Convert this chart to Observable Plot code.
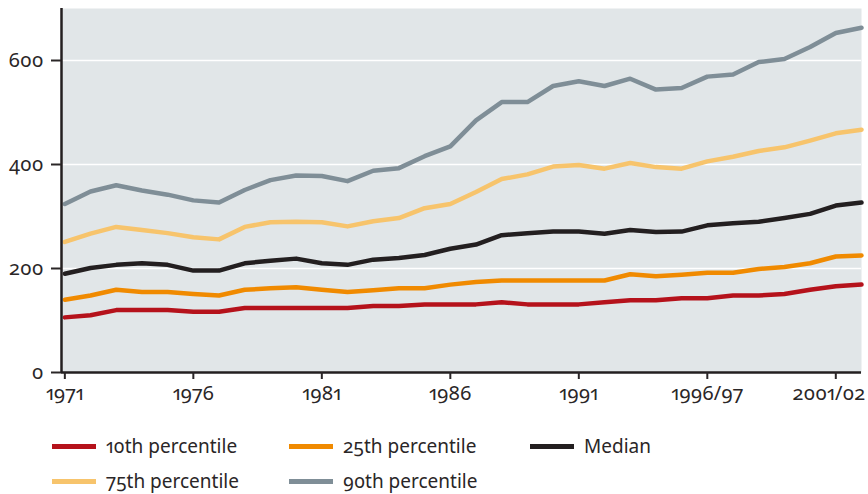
<!DOCTYPE html>
<html>
<head>
<meta charset="utf-8">
<script src="https://cdn.jsdelivr.net/npm/d3@7"></script>
<script src="https://cdn.jsdelivr.net/npm/@observablehq/plot@0.6"></script>
<style>
  html, body { margin: 0; padding: 0; background: #fff; }
  body { width: 868px; height: 494px; overflow: hidden; font-family: "Noto Sans", sans-serif; color: #231f20; font-variant-numeric: oldstyle-nums proportional-nums; }
  #chart { position: relative; width: 868px; }
  #chart svg text { font-variant-numeric: oldstyle-nums proportional-nums; }
  #legend { position: relative; width: 868px; height: 84px; }
  .item { position: absolute; display: flex; align-items: center; font-size: 19px; line-height: 22px; white-space: nowrap; color: #2a2627; }
  .sw { width: 44px; height: 5px; margin-right: 10px; }
</style>
</head>
<body>
<div id="chart"></div>
<div id="legend"></div>
<script>
const periods = ["1971","1972","1973","1974","1975","1976","1977","1978","1979","1980",
  "1981","1982","1983","1984","1985","1986","1987","1988","1989","1990",
  "1991","1992","1993","1994","1995","1996/97","1997/98","1998/99","1999/00","2000/01",
  "2001/02","2002/03"];
const tickIndex = [0, 5, 10, 15, 20, 25, 30];
const yTicks = [0, 200, 400, 600];
const gridValues = [200, 400, 600];

const p10 = [106,110,120,120,120,117,117,124,124,124,124,124,128,128,131,131,131,135,131,131,131,135,139,139,143,143,148,148,151,159,166,169];
const p25 = [140,148,159,155,155,151,148,159,162,164,159,155,158,162,162,169,174,177,177,177,177,177,189,185,188,192,192,199,203,210,223,225];
const median = [190,201,207,210,207,196,196,210,215,219,210,207,217,220,226,238,246,264,268,271,271,267,274,270,271,283,287,290,297,305,321,327];
const p75 = [251,267,280,274,268,260,256,280,289,290,289,281,291,297,316,324,347,372,381,396,399,392,403,395,392,406,415,426,433,446,460,467];
const p90 = [324,348,360,350,342,331,327,351,370,379,378,368,388,393,416,435,485,520,520,551,560,551,565,544,547,569,573,597,603,626,653,663];

const seriesNames = ["10th percentile","25th percentile","Median","75th percentile","90th percentile"];
const seriesColors = ["#b5121b","#f08a00","#231f20","#f7c46c","#7f8e97"];
const seriesValues = [p10, p25, median, p75, p90];

const data = seriesNames.flatMap((name, k) => seriesValues[k].map((v, i) => ({i, v, name})));
const xDomain = [-0.13, 31];
const lastTick = tickIndex[tickIndex.length - 1];

const chart = Plot.plot({
  width: 868,
  height: 410,
  marginLeft: 61,
  marginRight: 7,
  marginTop: 8,
  marginBottom: 38,
  style: {fontFamily: "'Noto Sans', sans-serif", fontSize: "20px", color: "#2a2627", background: "#fff"},
  x: {domain: xDomain},
  y: {domain: [0, 700]},
  color: {domain: seriesNames, range: seriesColors},
  marks: [
    Plot.frame({fill: "#e1e6e8", stroke: null}),
    Plot.gridY(gridValues, {stroke: "#ffffff", strokeOpacity: 1, strokeWidth: 1.5}),
    Plot.lineY(data, {x: "i", y: "v", z: "name", stroke: "name", strokeWidth: 4.5}),
    Plot.ruleX([xDomain[0]], {stroke: "#231f20", strokeWidth: 2.5}),
    Plot.ruleY([0], {stroke: "#231f20", strokeWidth: 2.5}),
    Plot.axisX({ticks: tickIndex, tickFormat: i => (i === lastTick ? "" : periods[i]), tickSize: 7, tickPadding: 6, strokeWidth: 2, label: null}),
    Plot.axisX({ticks: [lastTick], tickFormat: i => periods[i], tickSize: 0, tickPadding: 13, dx: -7, label: null}),
    Plot.axisY({ticks: yTicks, tickSize: 10, tickPadding: 8, strokeWidth: 2, label: null})
  ]
});
document.getElementById("chart").appendChild(chart);

const legend = document.getElementById("legend");
const cols = [52, 289, 530];
seriesNames.forEach((name, k) => {
  const item = document.createElement("div");
  item.className = "item";
  item.style.left = cols[k % 3] + "px";
  item.style.top = (25 + Math.floor(k / 3) * 35) + "px";
  const sw = document.createElement("span");
  sw.className = "sw";
  sw.style.background = seriesColors[k];
  const label = document.createElement("span");
  label.textContent = name;
  item.appendChild(sw);
  item.appendChild(label);
  legend.appendChild(item);
});
</script>
</body>
</html>
